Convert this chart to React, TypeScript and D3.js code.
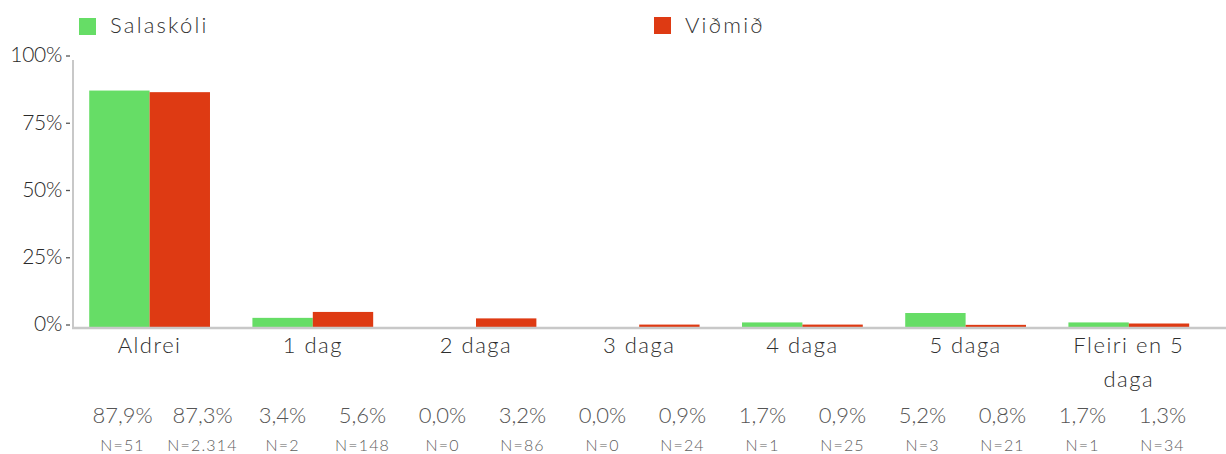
import React from 'react';
import * as d3 from 'd3';

// categories and series (percent values + counts)
const categories = ['Aldrei', '1 dag', '2 daga', '3 daga', '4 daga', '5 daga', 'Fleiri en 5 daga'];
const seriesNames = ['Salaskóli', 'Viðmið'];
const salaskoli = [87.9, 3.4, 0.0, 0.0, 1.7, 5.2, 1.7];
const vidmid = [87.3, 5.6, 3.2, 0.9, 0.9, 0.8, 1.3];
const salaskoliN = ['51', '2', '0', '0', '1', '3', '1'];
const vidmidN = ['2.314', '148', '86', '24', '25', '21', '34'];
const yTicks = [0, 25, 50, 75, 100];

const colors = ['#66dd66', '#de3a13'];
const W = 1226, H = 454;
const font = 'Lato, "Open Sans", sans-serif';

const fmt = (v: number) => v.toFixed(1).replace('.', ',') + '%';

// break long category names onto two lines
function wrap(label: string, maxChars: number) {
  if (label.length <= maxChars) return [label];
  const cut = label.lastIndexOf(' ', maxChars);
  return [label.slice(0, cut), label.slice(cut + 1)];
}

export default function App() {
  const margin = { left: 73, bottom: 328 };

  const y = d3.scaleLinear().domain([0, 100]).range([327, 58]);

  const x = d3.scaleBand()
    .domain(categories)
    .range([68, 1210.4])
    .paddingInner(0.26)
    .paddingOuter(0.13);

  const xSub = d3.scaleBand()
    .domain(seriesNames)
    .range([0, x.bandwidth()])
    .padding(0);

  // value labels sit on an even grid under the chart
  const labelKeys: string[] = [];
  categories.forEach(c => seriesNames.forEach(s => labelKeys.push(c + '|' + s)));
  const xLab = d3.scaleBand().domain(labelKeys).range([82.5, 1202.5]);

  const rows = categories.map((c, i) => ({
    name: c,
    values: [salaskoli[i], vidmid[i]],
    ns: [salaskoliN[i], vidmidN[i]],
  }));

  return (
    <svg width={W} height={H} style={{ position: 'absolute', left: 0, top: 0, background: '#fff' }}
      fontFamily={font}>
      {/* legend */}
      <g>
        <rect x={79} y={18} width={17} height={17} fill={colors[0]} />
        <text x={110} y={33} fontSize={22} fill="#333" fontWeight={300} letterSpacing={2.2}>{seriesNames[0]}</text>
        <rect x={654} y={17} width={17} height={17} fill={colors[1]} />
        <text x={685} y={33} fontSize={22} fill="#333" fontWeight={300} letterSpacing={2.2}>{seriesNames[1]}</text>
      </g>

      {/* bars */}
      {rows.map(r => (
        <g key={r.name} transform={`translate(${x(r.name)},0)`}>
          {r.values.map((v, j) => (
            <rect key={j} x={xSub(seriesNames[j])} y={y(v)} width={xSub.bandwidth()}
              height={y(0) - y(v) + 1} fill={colors[j]} />
          ))}
        </g>
      ))}

      {/* axes */}
      <line x1={margin.left} x2={margin.left} y1={60} y2={margin.bottom} stroke="#c8c8c8" strokeWidth={2} />
      <line x1={margin.left - 1} x2={W} y1={margin.bottom} y2={margin.bottom} stroke="#c8c8c8" strokeWidth={2.5} />

      {yTicks.map(t => (
        <g key={t} transform={`translate(0,${y(t) - 3})`}>
          <text x={62} dy="0.35em" textAnchor="end" fontSize={21} fill="#2a2a2a" fontWeight={300} letterSpacing={-0.3}>{t}%</text>
          <line x1={66} x2={70} y1={1} y2={1} stroke="#555" strokeWidth={1.3} />
        </g>
      ))}

      {/* category labels */}
      {categories.map(c => (
        <text key={c} textAnchor="middle" fontSize={22} fill="#2e2e2e" fontWeight={300} letterSpacing={1.5}>
          {wrap(c, 12).map((line, k) => (
            <tspan key={k} x={(x(c) as number) + x.bandwidth() / 2} y={353 + k * 34}>{line}</tspan>
          ))}
        </text>
      ))}

      {/* percentage and N labels */}
      {rows.map(r => r.values.map((v, j) => {
        const cx = (xLab(r.name + '|' + seriesNames[j]) as number) + xLab.bandwidth() / 2;
        return (
          <g key={r.name + j}>
            <text x={cx} y={423} textAnchor="middle" fontSize={22} fill="#555" fontWeight={300}>{fmt(v)}</text>
            <text x={cx} y={451} textAnchor="middle" fontSize={16} fill="#606060" fontWeight={300} letterSpacing={1.2}>N={r.ns[j]}</text>
          </g>
        );
      }))}
    </svg>
  );
}
